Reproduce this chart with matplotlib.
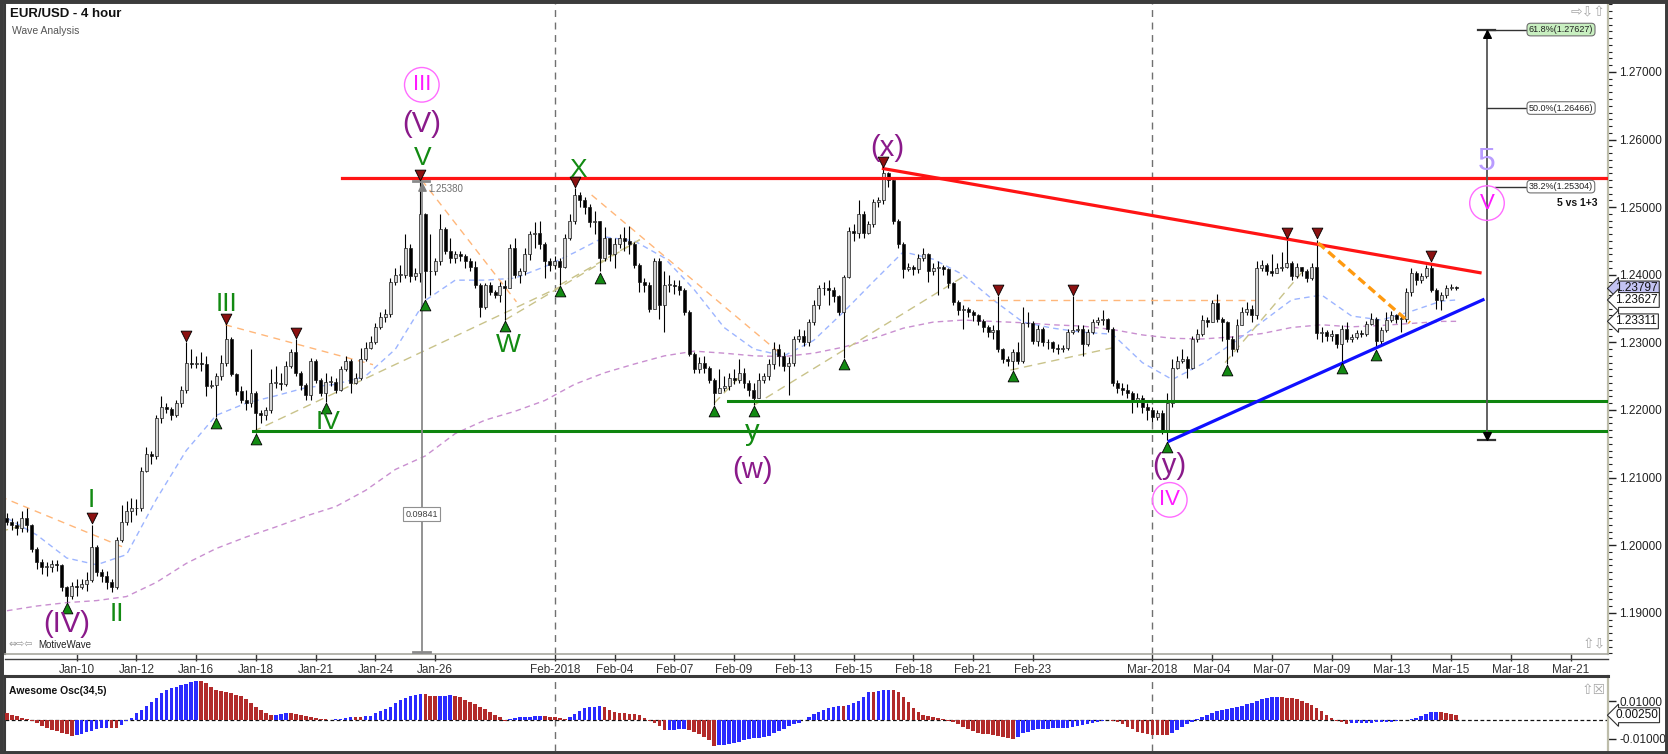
import numpy as np
import matplotlib
matplotlib.use("Agg")
import matplotlib.pyplot as plt
from matplotlib.patches import Rectangle
from matplotlib.lines import Line2D
from matplotlib.ticker import MultipleLocator

plt.rcParams['font.family'] = ['Liberation Sans', 'DejaVu Sans']

# ---------------- data (EUR/USD 4h candles) ----------------
open_first = 1.2040
closes = [
    1.2035, 1.2030, 1.2025, 1.2040, 1.2030, 1.1995, 1.1975, 1.1968, 1.1968, 1.1972,
    1.1970, 1.1938, 1.1925, 1.1940, 1.1938, 1.1942, 1.1948, 1.1998, 1.1960, 1.1955,
    1.1945, 1.1938, 1.2008, 1.2035, 1.2050, 1.2055, 1.2055, 1.2110, 1.2135, 1.2132,
    1.2188, 1.2205, 1.2202, 1.2193, 1.2210, 1.2230, 1.2270, 1.2268, 1.2270, 1.2268,
    1.2236, 1.2237, 1.2250, 1.2270, 1.2305, 1.2253, 1.2228, 1.2215, 1.2210, 1.2225,
    1.2195, 1.2192, 1.2200, 1.2240, 1.2240, 1.2238, 1.2265, 1.2285, 1.2255, 1.2237,
    1.2222, 1.2272, 1.2245, 1.2225, 1.2242, 1.2242, 1.2230, 1.2260, 1.2272, 1.2240,
    1.2248, 1.2276, 1.2292, 1.2300, 1.2322, 1.2338, 1.2342, 1.2390, 1.2400, 1.2400,
    1.2440, 1.2398, 1.2402, 1.2490, 1.2405, 1.2405, 1.2420, 1.2468, 1.2435, 1.2425,
    1.2430, 1.2428, 1.2420, 1.2412, 1.2385, 1.2353, 1.2385, 1.2375, 1.2370, 1.2383,
    1.2380, 1.2440, 1.2400, 1.2405, 1.2430, 1.2460, 1.2462, 1.2445, 1.2420, 1.2415,
    1.2420, 1.2412, 1.2455, 1.2480, 1.2518, 1.2510, 1.2500, 1.2478, 1.2480, 1.2425,
    1.2455, 1.2430, 1.2445, 1.2455, 1.2450, 1.2445, 1.2415, 1.2390, 1.2385, 1.2350,
    1.2420, 1.2355, 1.2385, 1.2385, 1.2383, 1.2377, 1.2345, 1.2283, 1.2260, 1.2270,
    1.2262, 1.2245, 1.2225, 1.2232, 1.2236, 1.2248, 1.2245, 1.2255, 1.2240, 1.2230,
    1.2218, 1.2245, 1.2250, 1.2268, 1.2290, 1.2280, 1.2265, 1.2270, 1.2305, 1.2310,
    1.2300, 1.2330, 1.2355, 1.2380, 1.2380, 1.2378, 1.2368, 1.2345, 1.2397, 1.2465,
    1.2462, 1.2490, 1.2462, 1.2475, 1.2508, 1.2510, 1.2550, 1.2540, 1.2480, 1.2445,
    1.2408, 1.2412, 1.2408, 1.2425, 1.2430, 1.2405, 1.2410, 1.2412, 1.2408, 1.2388,
    1.2360, 1.2348, 1.2350, 1.2345, 1.2340, 1.2332, 1.2322, 1.2316, 1.2318, 1.2290,
    1.2275, 1.2272, 1.2285, 1.2272, 1.2328, 1.2328, 1.2302, 1.2320, 1.2300, 1.2300,
    1.2292, 1.2290, 1.2292, 1.2315, 1.2318, 1.2320, 1.2298, 1.2315, 1.2330, 1.2333,
    1.2335, 1.2320, 1.2240, 1.2233, 1.2230, 1.2225, 1.2215, 1.2218, 1.2205, 1.2200,
    1.2190, 1.2195, 1.2170, 1.2210, 1.2262, 1.2272, 1.2275, 1.2262, 1.2305, 1.2312,
    1.2333, 1.2330, 1.2358, 1.2335, 1.2330, 1.2305, 1.2290, 1.2325, 1.2345, 1.2350,
    1.2340, 1.2410, 1.2415, 1.2405, 1.2402, 1.2410, 1.2412, 1.2418, 1.2398, 1.2412,
    1.2405, 1.2395, 1.2412, 1.2314, 1.2316, 1.2310, 1.2312, 1.2297, 1.2320, 1.2305,
    1.2308, 1.2314, 1.2313, 1.2327, 1.2335, 1.2302, 1.2318, 1.2333, 1.2340, 1.2335,
    1.2335, 1.2375, 1.2402, 1.2392, 1.2398, 1.2410, 1.2378, 1.2363, 1.2370, 1.2380,
    1.2382, 1.23797,
]
highs = [
    1.2048, 1.2040, 1.2036, 1.2050, 1.2055, 1.2032, 1.1998, 1.1980, 1.1975, 1.1978,
    1.1978, 1.1972, 1.1940, 1.1945, 1.1950, 1.1950, 1.1960, 1.2030, 1.2000, 1.1965,
    1.1962, 1.1950, 1.2012, 1.2060, 1.2065, 1.2070, 1.2068, 1.2115, 1.2145, 1.2140,
    1.2192, 1.2220, 1.2210, 1.2205, 1.2215, 1.2235, 1.2300, 1.2290, 1.2280, 1.2285,
    1.2280, 1.2245, 1.2255, 1.2282, 1.2325, 1.2308, 1.2255, 1.2235, 1.2230, 1.2290,
    1.2228, 1.2200, 1.2205, 1.2260, 1.2265, 1.2255, 1.2272, 1.2290, 1.2305, 1.2258,
    1.2240, 1.2277, 1.2275, 1.2248, 1.2255, 1.2250, 1.2248, 1.2265, 1.2280, 1.2275,
    1.2255, 1.2292, 1.2300, 1.2310, 1.2328, 1.2345, 1.2350, 1.2395, 1.2410, 1.2415,
    1.2460, 1.2445, 1.2410, 1.2538, 1.2492, 1.2460, 1.2425, 1.2490, 1.2470, 1.2455,
    1.2435, 1.2435, 1.2430, 1.2425, 1.2420, 1.2388, 1.2388, 1.2390, 1.2378, 1.2390,
    1.2392, 1.2445, 1.2455, 1.2410, 1.2440, 1.2465, 1.2478, 1.2480, 1.2448, 1.2425,
    1.2428, 1.2425, 1.2460, 1.2490, 1.2528, 1.2522, 1.2515, 1.2505, 1.2495, 1.2480,
    1.2470, 1.2450, 1.2455, 1.2460, 1.2470, 1.2472, 1.2448, 1.2418, 1.2395, 1.2390,
    1.2425, 1.2425, 1.2405, 1.2400, 1.2392, 1.2392, 1.2380, 1.2348, 1.2285, 1.2278,
    1.2280, 1.2265, 1.2248, 1.2260, 1.2250, 1.2255, 1.2260, 1.2275, 1.2262, 1.2245,
    1.2240, 1.2255, 1.2255, 1.2275, 1.2300, 1.2298, 1.2285, 1.2278, 1.2310, 1.2320,
    1.2318, 1.2335, 1.2362, 1.2385, 1.2390, 1.2392, 1.2382, 1.2370, 1.2400, 1.2470,
    1.2475, 1.2510, 1.2495, 1.2480, 1.2512, 1.2515, 1.2557, 1.2552, 1.2545, 1.2482,
    1.2448, 1.2418, 1.2415, 1.2430, 1.2440, 1.2432, 1.2418, 1.2420, 1.2415, 1.2410,
    1.2390, 1.2362, 1.2356, 1.2352, 1.2348, 1.2342, 1.2335, 1.2325, 1.2325, 1.2368,
    1.2292, 1.2280, 1.2290, 1.2300, 1.2353, 1.2345, 1.2332, 1.2325, 1.2322, 1.2305,
    1.2302, 1.2298, 1.2296, 1.2320, 1.2368, 1.2325, 1.2325, 1.2320, 1.2335, 1.2338,
    1.2348, 1.2336, 1.2322, 1.2245, 1.2240, 1.2238, 1.2228, 1.2225, 1.2222, 1.2210,
    1.2205, 1.2200, 1.2200, 1.2225, 1.2275, 1.2280, 1.2290, 1.2280, 1.2310, 1.2320,
    1.2340, 1.2338, 1.2362, 1.2372, 1.2338, 1.2332, 1.2310, 1.2335, 1.2352, 1.2360,
    1.2355, 1.2420, 1.2422, 1.2418, 1.2430, 1.2418, 1.2434, 1.2452, 1.2420, 1.2418,
    1.2412, 1.2408, 1.2418, 1.2452, 1.2322, 1.2318, 1.2318, 1.2312, 1.2325, 1.2330,
    1.2312, 1.2318, 1.2318, 1.2332, 1.2343, 1.2338, 1.2322, 1.2345, 1.2346, 1.2342,
    1.2340, 1.2380, 1.2410, 1.2405, 1.2402, 1.2415, 1.2418, 1.2380, 1.2375, 1.2385,
    1.2386, 1.2383,
]
lows = [
    1.2030, 1.2022, 1.2015, 1.2020, 1.2020, 1.1990, 1.1965, 1.1958, 1.1955, 1.1960,
    1.1962, 1.1932, 1.1916, 1.1920, 1.1925, 1.1935, 1.1932, 1.1945, 1.1955, 1.1945,
    1.1935, 1.1930, 1.1935, 1.2005, 1.2030, 1.2035, 1.2045, 1.2050, 1.2108, 1.2120,
    1.2128, 1.2180, 1.2195, 1.2185, 1.2190, 1.2205, 1.2225, 1.2262, 1.2262, 1.2258,
    1.2220, 1.2232, 1.2190, 1.2245, 1.2265, 1.2250, 1.2222, 1.2210, 1.2200, 1.2205,
    1.2166, 1.2180, 1.2185, 1.2195, 1.2232, 1.2230, 1.2235, 1.2262, 1.2250, 1.2230,
    1.2215, 1.2215, 1.2240, 1.2220, 1.2212, 1.2235, 1.2225, 1.2228, 1.2258, 1.2225,
    1.2238, 1.2245, 1.2272, 1.2290, 1.2298, 1.2320, 1.2330, 1.2338, 1.2385, 1.2390,
    1.2395, 1.2390, 1.2392, 1.2390, 1.2365, 1.2370, 1.2400, 1.2415, 1.2430, 1.2418,
    1.2418, 1.2420, 1.2410, 1.2405, 1.2380, 1.2338, 1.2350, 1.2370, 1.2365, 1.2360,
    1.2333, 1.2380, 1.2395, 1.2388, 1.2400, 1.2422, 1.2440, 1.2438, 1.2395, 1.2405,
    1.2408, 1.2385, 1.2410, 1.2452, 1.2475, 1.2500, 1.2490, 1.2470, 1.2460, 1.2405,
    1.2420, 1.2420, 1.2410, 1.2440, 1.2435, 1.2430, 1.2410, 1.2375, 1.2375, 1.2345,
    1.2350, 1.2335, 1.2315, 1.2375, 1.2372, 1.2370, 1.2340, 1.2280, 1.2255, 1.2255,
    1.2255, 1.2240, 1.2208, 1.2228, 1.2228, 1.2230, 1.2238, 1.2240, 1.2232, 1.2220,
    1.2208, 1.2220, 1.2240, 1.2245, 1.2260, 1.2265, 1.2258, 1.2222, 1.2265, 1.2300,
    1.2295, 1.2295, 1.2325, 1.2350, 1.2370, 1.2355, 1.2360, 1.2340, 1.2277, 1.2395,
    1.2450, 1.2455, 1.2455, 1.2460, 1.2470, 1.2500, 1.2505, 1.2530, 1.2475, 1.2440,
    1.2395, 1.2405, 1.2400, 1.2402, 1.2420, 1.2390, 1.2400, 1.2370, 1.2400, 1.2380,
    1.2355, 1.2340, 1.2320, 1.2338, 1.2332, 1.2325, 1.2315, 1.2308, 1.2305, 1.2285,
    1.2270, 1.2265, 1.2259, 1.2268, 1.2270, 1.2322, 1.2298, 1.2295, 1.2295, 1.2290,
    1.2285, 1.2283, 1.2286, 1.2288, 1.2312, 1.2315, 1.2280, 1.2295, 1.2312, 1.2325,
    1.2325, 1.2315, 1.2235, 1.2225, 1.2222, 1.2218, 1.2195, 1.2205, 1.2195, 1.2185,
    1.2182, 1.2185, 1.2165, 1.2155, 1.2205, 1.2260, 1.2270, 1.2248, 1.2260, 1.2300,
    1.2310, 1.2322, 1.2330, 1.2330, 1.2302, 1.2268, 1.2280, 1.2285, 1.2325, 1.2340,
    1.2330, 1.2335, 1.2405, 1.2400, 1.2398, 1.2402, 1.2405, 1.2410, 1.2392, 1.2395,
    1.2398, 1.2390, 1.2392, 1.2305, 1.2300, 1.2302, 1.2302, 1.2292, 1.2271, 1.2300,
    1.2300, 1.2305, 1.2308, 1.2310, 1.2325, 1.2291, 1.2298, 1.2315, 1.2330, 1.2328,
    1.2315, 1.2330, 1.2368, 1.2385, 1.2388, 1.2395, 1.2375, 1.2350, 1.2348, 1.2365,
    1.2378, 1.2378,
]
# Awesome Oscillator (34,5), units of 0.0001
ao = [
    35, 28, 20, 12, 5, -5, -18, -30, -42, -52,
    -60, -67, -74, -82, -79, -72, -64, -56, -49, -44,
    -40, -41, -42, -28, -6, 12, 35, 55, 75, 95,
    118, 140, 158, 167, 175, 182, 190, 198, 207, 205,
    196, 175, 160, 155, 146, 140, 133, 126, 109, 88,
    67, 53, 38, 26, 28, 31, 36, 35, 32, 28,
    21, 14, 9, 4, 3, 2, 3, 4, 8, 16,
    15, 14, 20, 22, 35, 47, 58, 70, 88, 105,
    114, 126, 131, 138, 135, 128, 125, 127, 128, 129,
    125, 120, 107, 95, 82, 70, 60, 44, 28, 15,
    -6, 4, 9, 14, 17, 18, 19, 21, 19, 18,
    15, 12, 7, 15, 30, 47, 62, 68, 71, 74,
    66, 50, 42, 38, 35, 33, 30, 25, 8, -4,
    -18, -33, -55, -53, -52, -50, -49, -55, -62, -74,
    -88, -105, -135, -133, -131, -128, -122, -115, -107, -100,
    -96, -93, -88, -82, -70, -58, -45, -33, -23, -14,
    -2, 14, 30, 42, 54, 63, 71, 73, 72, 80,
    92, 102, 120, 150, 148, 153, 156, 158, 157, 145,
    122, 96, 62, 42, 28, 20, 16, 12, 5, -3,
    -10, -21, -35, -50, -60, -68, -72, -75, -80, -85,
    -92, -97, -102, -88, -70, -62, -55, -50, -47, -45,
    -44, -43, -42, -40, -36, -30, -25, -20, -15, -8,
    -4, 1, -4, -8, -20, -35, -50, -62, -70, -74,
    -77, -78, -79, -80, -70, -52, -35, -20, -8, 5,
    15, 25, 35, 45, 52, 58, 63, 68, 74, 82,
    92, 102, 110, 116, 120, 122, 120, 118, 115, 110,
    102, 92, 80, 65, 45, 25, 10, -5, -12, -20,
    -18, -17, -16, -15, -14, -13, -12, -10, -8, -5,
    -2, 2, 6, 12, 22, 32, 40, 43, 41, 36,
    32, 25,
]
# moving averages sampled every 6 candles (plus last candle)
ma_idx = list(range(0, 289, 6)) + [291]
blue_ma = [
    1.2040, 1.2015, 1.1981, 1.1971, 1.1986, 1.2068, 1.2140, 1.2192, 1.2210, 1.2221,
    1.2233, 1.2238, 1.2250, 1.2290, 1.2362, 1.2392, 1.2392, 1.2395, 1.2412, 1.2433,
    1.2456, 1.2450, 1.2425, 1.2378, 1.2322, 1.2290, 1.2280, 1.2303, 1.2345, 1.2390,
    1.2434, 1.2423, 1.2400, 1.2363, 1.2330, 1.2321, 1.2315, 1.2312, 1.2270, 1.2245,
    1.2268, 1.2298, 1.2330, 1.2363, 1.2370, 1.2339, 1.2333, 1.2346, 1.2361, 1.23627,
]
purple_ma = [
    1.1903, 1.1910, 1.1915, 1.1918, 1.1924, 1.1945, 1.1973, 1.1995, 1.2012, 1.2027,
    1.2043, 1.2057, 1.2081, 1.2112, 1.2132, 1.2165, 1.2185, 1.2198, 1.2214, 1.2238,
    1.2255, 1.2268, 1.2280, 1.2287, 1.2284, 1.2280, 1.2279, 1.2284, 1.2293, 1.2306,
    1.2321, 1.2330, 1.2333, 1.2331, 1.2329, 1.2326, 1.2324, 1.2319, 1.2311, 1.2306,
    1.2305, 1.2308, 1.2313, 1.2322, 1.2326, 1.2323, 1.2325, 1.2328, 1.2331, 1.23311,
]

# swing markers (candle indices)
top_marks = [17, 36, 44, 58, 83, 114, 176, 199, 214, 257, 263, 286]
bottom_marks = [12, 42, 50, 64, 84, 100, 111, 119, 142, 150, 168, 202, 233, 245, 268, 275]

# date axis: first candle of Jan-10 is index 14, 6 candles per trading day
tick_labels = ['Jan-10', 'Jan-12', 'Jan-16', 'Jan-18', 'Jan-21', 'Jan-24', 'Jan-26',
               'Feb-2018', 'Feb-04', 'Feb-07', 'Feb-09', 'Feb-13', 'Feb-15', 'Feb-18',
               'Feb-21', 'Feb-23', 'Mar-2018', 'Mar-04', 'Mar-07', 'Mar-09', 'Mar-13',
               'Mar-15', 'Mar-18', 'Mar-21']
tick_days = [0, 2, 4, 6, 8, 10, 12, 16, 18, 20, 22, 24, 26, 28, 30, 32, 36, 38, 40,
             42, 44, 46, 48, 50]
month_starts = ['Feb-2018', 'Mar-2018']

# drawn studies
resistance = 1.2543
resistance_from = 67.2
supports = [(49.4, 1.2169), (144.8, 1.2213)]
red_trend = [(176, 1.2557), (295.8, 1.2403)]
blue_trend = [(233.4, 1.2154), (296.4, 1.2363)]
orange_trend = [(263.3, 1.2447), (281.7, 1.2329)]
peach_lines = [[(-1.4, 1.2072), (23.7, 1.1996)], [(43.8, 1.2326), (73.5, 1.2267)],
               [(83.3, 1.2540), (102.3, 1.2360)], [(117.4, 1.2518), (155.2, 1.2284)],
               [(192.0, 1.2363), (251.6, 1.2363)]]
khaki_lines = [[(-1.4, 1.2020), (2.6, 1.2028)], [(49.4, 1.2168), (111.0, 1.2382)],
               [(100.0, 1.2333), (127.1, 1.2452)], [(111.0, 1.2385), (127.1, 1.2452)],
               [(142.0, 1.2210), (147.8, 1.2254)], [(150.0, 1.2207), (192.0, 1.2397)],
               [(201.5, 1.2259), (223.3, 1.2294)], [(244.6, 1.2270), (260.2, 1.2405)]]
fib_x = 297.2
fib_low = 1.2156
fib_levels = [(61.8, 1.27627), (50.0, 1.26466), (38.2, 1.25304)]
measure_x = 83.3
measure_top = 1.2538
measure_text = '0.09841'

n = len(closes)
assert len(highs) == n and len(lows) == n and len(ao) == n

x = np.arange(n)
c = np.array(closes)
o = np.r_[open_first, c[:-1]]
h = np.maximum(np.array(highs), np.maximum(o, c))
l = np.minimum(np.array(lows), np.minimum(o, c))
xmin, xmax = -0.4, 321.5

W, H = 1668, 754
fig = plt.figure(figsize=(W / 100, H / 100), dpi=100)
ax = fig.add_axes([5 / W, 1 - 654 / H, 1603 / W, 651 / H])
ax2 = fig.add_axes([5 / W, 1 - 751 / H, 1603 / W, 75 / H])

# ---------------- price panel ----------------
ax.set_xlim(xmin, xmax)
ax.set_ylim(1.1839, 1.2802)

ax.plot(ma_idx, purple_ma, color='#c98fd0', lw=1, ls=(0, (4, 3)), zorder=2)
ax.plot(ma_idx, blue_ma, color='#9db5ff', lw=1, ls=(0, (4, 3)), zorder=2)

for seg in peach_lines:
    ax.plot([p[0] for p in seg], [p[1] for p in seg], color='#ffb77a', lw=1,
            ls=(0, (5, 4)), zorder=2)
for seg in khaki_lines:
    ax.plot([p[0] for p in seg], [p[1] for p in seg], color='#c9c38a', lw=1,
            ls=(0, (6, 4)), zorder=2)

ax.vlines(x, l, h, color='black', lw=0.8, zorder=3)
body_h = np.maximum(np.abs(c - o), 0.00007)
body_col = np.where(c >= o, '#d2d2d2', '#000000')
ax.bar(x, body_h, bottom=np.minimum(o, c), width=0.6, color=body_col,
       edgecolor='#1a1a1a', linewidth=0.5, zorder=4)

# levels and trend lines
ax.plot([resistance_from, xmax], [resistance, resistance], color='#ff1414', lw=2.3, zorder=5)
for x0, lev in supports:
    ax.plot([x0, xmax], [lev, lev], color='#0e850e', lw=2.2, zorder=5)
ax.plot(*zip(*red_trend), color='#ff1414', lw=2.3, zorder=5)
ax.plot(*zip(*blue_trend), color='#1010ff', lw=2.3, zorder=5)
ax.plot(*zip(*orange_trend), color='#ff9a10', lw=2.4, ls=(0, (2.6, 1.4)), zorder=5)

# measurement line at wave V
ax.plot([measure_x, measure_x], [1.1839, measure_top], color='#8a8a8a', lw=1.3, zorder=5)
ax.plot([measure_x - 1.7, measure_x + 1.5], [measure_top, measure_top], color='#8a8a8a', lw=2, zorder=5)
ax.plot([measure_x - 1.7, measure_x + 1.7], [1.1842, 1.1842], color='#8a8a8a', lw=2, zorder=5)
ax.scatter([measure_x], [measure_top - 0.0008], marker='^', s=28, color='#808080', zorder=6)
ax.text(measure_x + 1.3, measure_top - 0.0011, '1.25380', fontsize=7, color='#707070',
        va='center', ha='left', zorder=7)
ax.text(measure_x, 1.2046, measure_text, fontsize=6.5, color='#404040', ha='center', va='center',
        bbox=dict(boxstyle='square,pad=0.25', fc='white', ec='#909090', lw=0.8), zorder=7)

# fib projection
fib_top = fib_levels[0][1]
ax.plot([fib_x, fib_x], [fib_low, fib_top], color='#555555', lw=1.3, zorder=5)
for yy in (fib_low, fib_top):
    ax.plot([fib_x - 1.8, fib_x + 1.7], [yy, yy], color='#333333', lw=1.6, zorder=5)
ax.scatter([fib_x], [fib_top - 0.0006], marker='^', s=30, color='black', zorder=6)
ax.scatter([fib_x], [fib_low + 0.0006], marker='v', s=30, color='black', zorder=6)
for k, (pct, lev) in enumerate(fib_levels):
    start = fib_x if k < 2 else fib_x + 1.6
    ax.plot([start, 305.4], [lev, lev], color='#333333', lw=1, zorder=5)
    ax.text(305.6, lev, f'{pct:.1f}%({lev:.5f})', fontsize=6.5, color='#222222',
            va='center', ha='left', zorder=7,
            bbox=dict(boxstyle='round,pad=0.2,rounding_size=0.4',
                      fc='#c8efc0' if k == 0 else 'white', ec='#707070', lw=0.8))
ax.text(319.4, 1.2506, '5 vs 1+3', fontsize=7.5, fontweight='bold', ha='right', va='center',
        color='#111111', zorder=7)

# vertical month separators
for lab in month_starts:
    mx = 14 + 6 * tick_days[tick_labels.index(lab)]
    for a in (ax, ax2):
        a.axvline(mx, color='#707070', lw=1, ls=(0, (5, 4)), zorder=1)

# swing markers
top_marks = np.array(top_marks)
bottom_marks = np.array(bottom_marks)
ax.scatter(top_marks, h[top_marks] + 0.00095, marker='v', s=60, color='#8b1111',
           edgecolors='black', linewidths=0.6, zorder=8)
ax.scatter(bottom_marks, l[bottom_marks] - 0.00095, marker='^', s=60, color='#138a13',
           edgecolors='black', linewidths=0.6, zorder=8)

# wave labels
green, purple = '#128a12', '#8a1a8a'
wave_labels = [
    ('I', 16.9, 1.2067, green, 19), ('II', 22.0, 1.1898, green, 19),
    ('III', 44.0, 1.2357, green, 19), ('IV', 64.5, 1.2182, green, 19),
    ('V', 83.5, 1.2573, green, 19), ('W', 100.6, 1.2296, green, 19),
    ('X', 114.7, 1.2555, green, 19), ('y', 149.6, 1.2168, green, 21),
    ('(IV)', 12.0, 1.1884, purple, 21), ('(V)', 83.3, 1.2623, purple, 21),
    ('(w)', 149.8, 1.2111, purple, 21), ('(x)', 176.7, 1.2588, purple, 21),
    ('(y)', 233.5, 1.2117, purple, 21),
    ('5', 297.2, 1.2567, '#b99cff', 23),
]
for txt, lx, ly, col, fs in wave_labels:
    ax.text(lx, ly, txt, color=col, fontsize=fs, ha='center', va='center', zorder=9)
circled = [('III', 83.3, 1.2681), ('IV', 233.5, 1.2067), ('V', 297.2, 1.2506)]
for txt, lx, ly in circled:
    ax.scatter([lx], [ly], s=620, facecolors='none', edgecolors='#ff6cff', linewidths=1, zorder=9)
    ax.text(lx, ly, txt, color='#ff1aff', fontsize=16, ha='center', va='center', zorder=9)

# header and footer text
ax.text(0.0031, 0.983, 'EUR/USD - 4 hour', transform=ax.transAxes, fontsize=9.5,
        fontweight='bold', va='center', ha='left', color='#111111')
ax.text(0.0044, 0.957, 'Wave Analysis', transform=ax.transAxes, fontsize=7.5,
        va='center', ha='left', color='#555555')
ax.text(0.002, 0.0138, '⇔⇨⇦', transform=ax.transAxes, fontsize=7, color='#999999',
        va='center', ha='left', family=['DejaVu Sans'])
ax.text(0.0206, 0.0138, 'MotiveWave', transform=ax.transAxes, fontsize=7, color='#222222',
        va='center', ha='left')
ax.text(0.9985, 0.986, '⇨⇩⇧', transform=ax.transAxes, fontsize=10, color='#a8a8a8',
        va='center', ha='right', family=['DejaVu Sans'])
ax.text(0.9985, 0.014, '⇧⇩', transform=ax.transAxes, fontsize=10, color='#a8a8a8',
        va='center', ha='right', family=['DejaVu Sans'])

# axes styling
ax.set_xticks([14 + 6 * d for d in tick_days])
ax.set_xticklabels(tick_labels)
ax.tick_params(axis='x', direction='out', length=5, width=1, colors='#333333',
               labelsize=8.5, pad=2)
ax.yaxis.tick_right()
yt = np.round(np.arange(1.19, 1.2701, 0.01), 2)
ax.set_yticks(yt)
ax.set_yticklabels([f'{v:.5f}' for v in yt])
ax.yaxis.set_minor_locator(MultipleLocator(0.001))
ax.tick_params(axis='y', which='major', direction='out', length=6, width=1,
               colors='#222222', labelsize=8.5, pad=2)
ax.tick_params(axis='y', which='minor', direction='out', length=3, width=0.8, colors='#222222')
for side, col, lw in (('top', '#3a3a3a', 0), ('left', '#3a3a3a', 1.5),
                      ('right', '#bdbdaa', 1.6), ('bottom', '#a8a8a0', 1.2)):
    ax.spines[side].set_color(col)
    ax.spines[side].set_linewidth(lw)
    if lw == 0:
        ax.spines[side].set_visible(False)

# price tags on the right axis
tags = [(c[-1], '#c3c3f3'), (blue_ma[-1], 'white'), (purple_ma[-1], 'white')]
for val, fc in tags:
    ax.text(1.0045, val, f'{val:.5f}', transform=ax.get_yaxis_transform(), fontsize=8.5,
            va='center', ha='left', color='#111111', clip_on=False, zorder=10,
            bbox=dict(boxstyle='larrow,pad=0.12', fc=fc, ec='#303030', lw=0.8))

# ---------------- Awesome oscillator panel ----------------
ao_v = np.array(ao) * 1e-4
ao_col = ['#b22a2a'] + ['#2a2aff' if ao_v[i] >= ao_v[i - 1] else '#b22a2a' for i in range(1, n)]
ax2.set_xlim(xmin, xmax)
ax2.set_ylim(-0.01632, 0.02316)
ax2.axhline(0, color='#111111', lw=0.9, ls=(0, (3, 2)), zorder=2)
ax2.bar(x, ao_v, width=0.72, color=ao_col, zorder=3)
ax2.set_xticks([])
ax2.yaxis.tick_right()
ax2.set_yticks([0.01, -0.01])
ax2.set_yticklabels(['0.01000', '-0.01000'])
ax2.tick_params(axis='y', direction='out', length=6, width=1, colors='#222222',
                labelsize=8.5, pad=2)
for side, col, lw in (('top', '#3a3a3a', 2.2), ('left', '#3a3a3a', 1.5),
                      ('right', '#bdbdaa', 1.6), ('bottom', '#3a3a3a', 0)):
    ax2.spines[side].set_color(col)
    ax2.spines[side].set_linewidth(lw)
    if lw == 0:
        ax2.spines[side].set_visible(False)
ax2.text(0.0028, 0.80, 'Awesome Osc(34,5)', transform=ax2.transAxes, fontsize=7.5,
         fontweight='bold', va='center', ha='left', color='#111111')
ax2.text(0.9985, 0.82, '⇧☒', transform=ax2.transAxes, fontsize=10, color='#a8a8a8',
         va='center', ha='right', family=['DejaVu Sans'])
ax2.text(1.0045, ao_v[-1], f'{ao_v[-1]:.5f}', transform=ax2.get_yaxis_transform(),
         fontsize=8.5, va='center', ha='left', color='#111111', clip_on=False, zorder=10,
         bbox=dict(boxstyle='larrow,pad=0.12', fc='white', ec='#303030', lw=0.8))

# date axis base line and outer frame
fig.add_artist(Line2D([5 / W, 1608 / W], [1 - 659 / H, 1 - 659 / H], color='#404040', lw=1))
fig.add_artist(Rectangle((0, 0), 1, 1, transform=fig.transFigure, fill=False,
                         ec='#3c3c3c', lw=5))

fig.savefig('out.png', dpi=100)
